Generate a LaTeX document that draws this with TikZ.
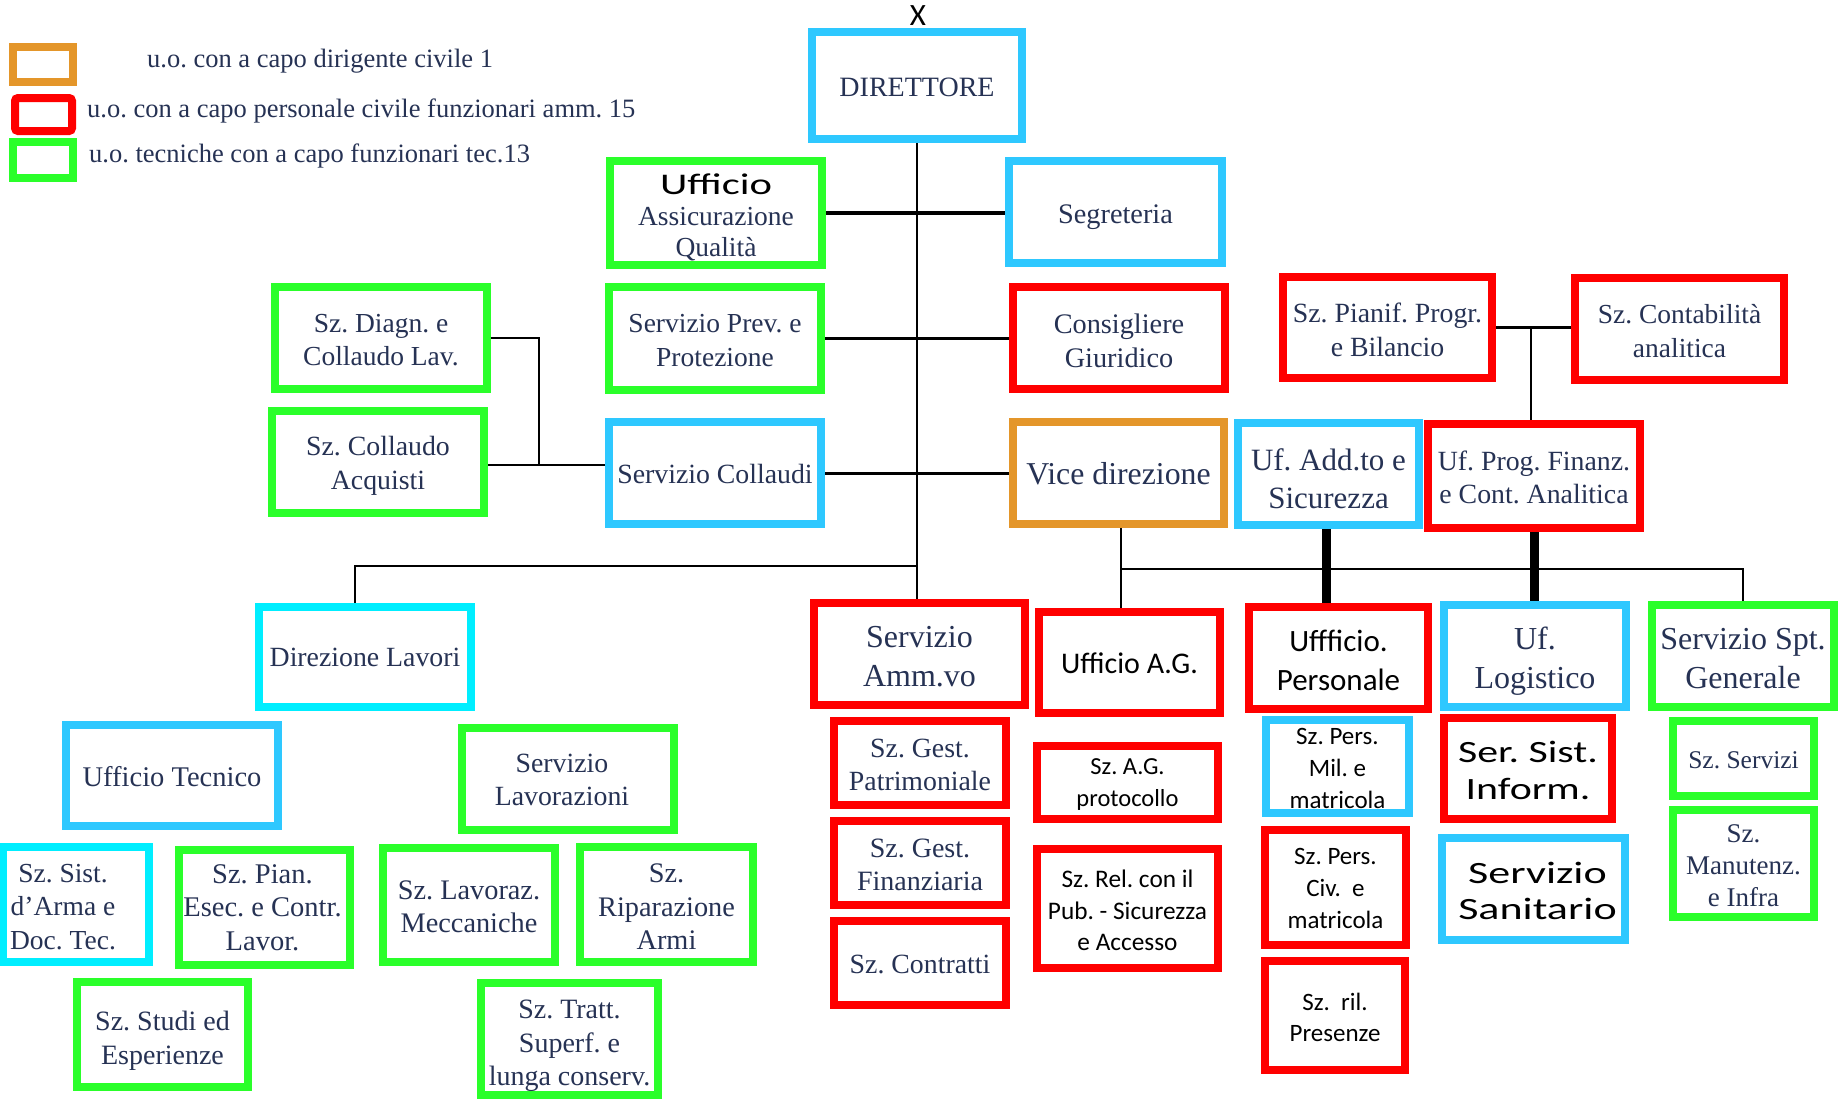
\documentclass[tikz,border=0pt]{standalone}
\usepackage{fontspec}
\setmainfont{Liberation Serif}
\newfontfamily\calfont{Carlito}
\newfontfamily\calwide[FakeStretch=1.35]{Carlito}
\newfontfamily\calwider[FakeStretch=1.42]{Carlito}
\usetikzlibrary{backgrounds}
\frenchspacing
\definecolor{navy}{RGB}{38,50,84}
\definecolor{ltblue}{RGB}{46,200,255}
\definecolor{brcyan}{RGB}{0,238,255}
\definecolor{grn}{RGB}{42,255,42}
\definecolor{orng}{RGB}{228,150,42}
\definecolor{rd}{RGB}{255,0,0}
\newcommand\orgbox[8]{%
  \pgfmathsetmacro\obcx{(#2+#4)/2}%
  \pgfmathsetmacro\obcy{(#3+#5)/2}%
  \pgfmathsetmacro\obw{#4-#2-8}%
  \pgfmathsetmacro\obh{#5-#3-8}%
  \node[ubox,#6,minimum width=\obw pt,minimum height=\obh pt] (#1) at (\obcx,\obcy) {};
  \node[btext,#7] (#1t) at (#1.center) {#8};}
\tikzset{
  ubox/.style={draw,line width=8pt,fill=white,inner sep=0pt},
  btext/.style={inner sep=0pt,align=center,text=navy},
  cB/.style={draw=ltblue}, cC/.style={draw=brcyan}, cG/.style={draw=grn},
  cR/.style={draw=rd}, cO/.style={draw=orng},
  fs/.style 2 args={font=\fontsize{#1}{#2}\selectfont},
  cf/.style 2 args={font=\calfont\fontsize{#1}{#2}\selectfont,text=black},
  wf/.style 2 args={font=\calwide\fontsize{#1}{#2}\selectfont,text=black},
  ww/.style 2 args={font=\calwider\fontsize{#1}{#2}\selectfont,text=black},
  conn/.style={draw=black,line width=2.2pt},
  leg/.style={font=\fontsize{26.5}{30}\selectfont,text=navy,inner sep=0pt},
  legbox/.style={draw,line width=8pt,fill=white,inner sep=0pt}
}
\begin{document}
\begin{tikzpicture}[x=1pt,y=-1pt]
\begin{pgfonlayer}{background}
\fill[white] (0,0) rectangle (1838,1100);
\end{pgfonlayer}
\useasboundingbox (0,0) rectangle (1838,1100);
% legend
\node[legbox,draw=orng,minimum width=60pt,minimum height=35pt] (l1) at (43,64.5) {};
\node[legbox,draw=rd,rounded corners=3pt,minimum width=57pt,minimum height=33pt] (l2) at (43.5,114.5) {};
\node[legbox,draw=grn,minimum width=60pt,minimum height=36pt] (l3) at (43,160) {};
\node[leg,anchor=base west] (lt1) at (147,67) {u.o. con a capo dirigente civile 1};
\node[leg,anchor=base west] (lt2) at (87,117) {u.o. con a capo personale civile funzionari amm. 15};
\node[leg,anchor=base west] (lt3) at (89,162) {u.o. tecniche con a capo funzionari tec.13};
% top
\node[font=\calfont\fontsize{31}{31}\selectfont,anchor=base,inner sep=0pt] (xm) at (918,25) {X};
\orgbox{dir}{808}{28}{1026}{143}{cB}{fs={28}{33},yshift=-2.3pt}{DIRETTORE}
\orgbox{aq}{606}{157}{826}{269}{cG}{fs={27.5}{31},yshift=-4.7pt}{{\calwider\fontsize{30}{31}\selectfont\color{black}Ufficio}\\Assicurazione\\Qualità}
\orgbox{seg}{1005}{157}{1226}{267}{cB}{fs={28.3}{33},yshift=-4.7pt}{Segreteria}
\orgbox{prev}{605}{283}{825}{394}{cG}{fs={27.5}{34},yshift=-2.5pt}{Servizio Prev. e\\Protezione}
\orgbox{cons}{1009}{283}{1229}{393}{cR}{fs={28.3}{34},yshift=-2.5pt}{Consigliere\\Giuridico}
\orgbox{pian}{1279}{273}{1496}{382}{cR}{fs={27.8}{34},yshift=-2pt}{Sz. Pianif. Progr.\\e Bilancio}
\orgbox{cont}{1571}{274}{1788}{384}{cR}{fs={27.5}{34},yshift=-2pt}{Sz. Contabilità\\analitica}
\orgbox{diag}{271}{283}{491}{393}{cG}{fs={27.5}{33},yshift=-2.3pt}{Sz. Diagn. e\\Collaudo Lav.}
\orgbox{acq}{268}{407}{488}{517}{cG}{fs={27.8}{34},yshift=-4pt}{Sz. Collaudo\\Acquisti}
\orgbox{coll}{605}{418}{825}{528}{cB}{fs={27.8}{33},yshift=-1pt}{Servizio Collaudi}
\orgbox{vice}{1009}{418}{1228}{528}{cO}{fs={31.8}{38},yshift=-1.2pt}{Vice direzione}
\orgbox{add}{1234}{419}{1423}{529}{cB}{fs={31}{37.5},yshift=-4.7pt}{Uf. Add.to e\\Sicurezza}
\orgbox{prog}{1424}{420}{1644}{532}{cR}{fs={27.8}{33},yshift=-1.2pt}{Uf. Prog. Finanz.\\e Cont. Analitica}
% second level
\orgbox{dl}{255}{603}{475}{711}{cC}{fs={27.8}{33}}{Direzione Lavori}
\orgbox{amm}{810}{599}{1029}{709}{cR}{fs={32}{39},yshift=-2.5pt}{Servizio\\Amm.vo}
\orgbox{ag}{1035}{608}{1224}{717}{cR}{cf={30}{38},yshift=-1pt}{Ufficio A.G.}
\orgbox{pers}{1245}{603}{1432}{713}{cR}{cf={31}{38.5},yshift=-2.5pt}{Uffficio.\\Personale}
\orgbox{log}{1440}{601}{1630}{711}{cB}{fs={32}{38.7},yshift=-5.3pt}{Uf.\\Logistico}
\orgbox{spt}{1648}{601}{1838}{711}{cG}{fs={32}{38.7},yshift=-2.3pt}{Servizio Spt.\\Generale}
% lower left
\orgbox{ut}{62}{721}{282}{830}{cB}{fs={28.5}{33},yshift=-1pt}{Ufficio Tecnico}
\orgbox{slav}{458}{724}{678}{834}{cG}{fs={27.8}{33},yshift=-1pt,xshift=-6pt}{Servizio\\Lavorazioni}
\orgbox{sist}{-1}{843}{153}{966}{cC}{fs={27.5}{33.5},yshift=-2.5pt,xshift=-13pt}{Sz. Sist.\\d’Arma e\\Doc. Tec.}
\orgbox{pesec}{175}{846}{354}{969}{cG}{fs={28.5}{33.5},xshift=-2pt}{Sz. Pian.\\Esec. e Contr.\\Lavor.}
\orgbox{mecc}{379}{844}{559}{966}{cG}{fs={28.3}{33.5},yshift=-2pt}{Sz. Lavoraz.\\Meccaniche}
\orgbox{rip}{576}{843}{757}{966}{cG}{fs={28.3}{33.5},yshift=-2.5pt}{Sz.\\Riparazione\\Armi}
\orgbox{studi}{73}{978}{252}{1091}{cG}{fs={28}{34},yshift=-6pt}{Sz. Studi ed\\Esperienze}
\orgbox{tratt}{477}{979}{662}{1099}{cG}{fs={28}{33.5},yshift=-7pt}{Sz. Tratt.\\Superf. e\\lunga conserv.}
% lower middle
\orgbox{patr}{830}{717}{1010}{809}{cR}{fs={27.8}{33},yshift=-1.5pt}{Sz. Gest.\\Patrimoniale}
\orgbox{fin}{830}{817}{1010}{909}{cR}{fs={28}{33},yshift=-1.5pt}{Sz. Gest.\\Finanziaria}
\orgbox{contr}{830}{917}{1010}{1009}{cR}{fs={27.8}{33},yshift=-1pt}{Sz. Contratti}
\orgbox{agp}{1033}{742}{1222}{823}{cR}{cf={24.5}{31.7},yshift=-2pt}{Sz. A.G.\\protocollo}
\orgbox{rel}{1033}{845}{1222}{972}{cR}{cf={25.3}{31.7},yshift=-2pt}{Sz. Rel. con il\\Pub. - Sicurezza\\e Accesso}
\orgbox{mil}{1262}{716}{1413}{817}{cB}{cf={25}{31.7},yshift=-2pt}{Sz. Pers.\\Mil. e\\matricola}
\orgbox{civ}{1261}{826}{1410}{949}{cR}{cf={25}{31.7},yshift=-1pt}{Sz. Pers.\\Civ.\ \ e\\matricola}
\orgbox{ril}{1261}{957}{1409}{1074}{cR}{cf={25}{31.7},yshift=-2pt}{Sz.\ \ ril.\\Presenze}
\orgbox{sis}{1440}{714}{1616}{823}{cR}{wf={31}{37.5},yshift=-2pt}{Ser. Sist.\\Inform.}
\orgbox{san}{1438}{834}{1629}{944}{cB}{ww={31}{36.5},yshift=-2pt,xshift=4pt}{Servizio\\Sanitario}
\orgbox{serv}{1669}{717}{1818}{800}{cG}{fs={25.5}{33},yshift=-2pt}{Sz. Servizi}
\orgbox{man}{1669}{806}{1818}{921}{cG}{fs={27}{31.7},yshift=-2pt}{Sz.\\Manutenz.\\e Infra}
% connectors
\coordinate (j1) at (539,465);
\coordinate (j2) at (355,566);
\coordinate (h3) at (1121,569);
\coordinate (ja) at (1326,0);
\coordinate (jp) at (1531,0);
\begin{pgfonlayer}{background}
\draw[conn] (dir.south) -- (dir.south |- amm.north);
\draw[conn,line width=3.5pt] (aq.east) -- (aq.east -| seg.west);
\draw[conn] (prev.east) -- (prev.east -| cons.west);
\draw[conn,line width=3pt] (coll.east) -- (coll.east -| vice.west);
\draw[conn] (acq.east |- j1) -- (coll.west |- j1);
\draw[conn] (diag.east) -- (diag.east -| j1) -- (j1);
\draw[conn] (dir.south |- j2) -- (j2) -- (j2 |- dl.north);
\draw[conn] (vice.south -| h3) -- (h3 |- ag.north);
\draw[conn] (h3) -- (spt.north |- h3) -- (spt.north);
\draw[conn,line width=9pt] (add.south -| ja) -- (ja |- pers.north);
\draw[conn,line width=9pt] (prog.south) -- (prog.south |- log.north);
\draw[conn] (pian.east) -- (pian.east -| cont.west);
\draw[conn] (jp |- pian.east) -- (jp |- prog.north);
\end{pgfonlayer}
\end{tikzpicture}
\end{document}
